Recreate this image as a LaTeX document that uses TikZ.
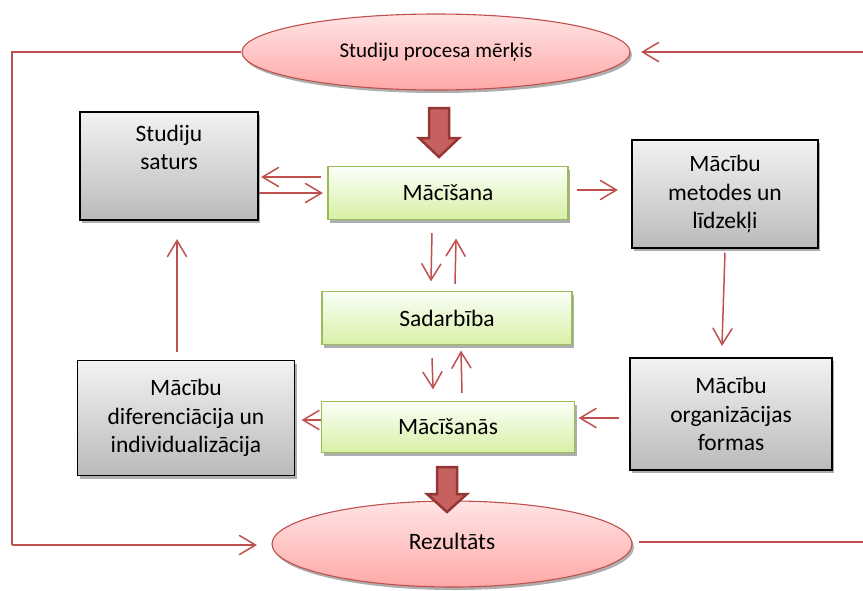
\documentclass[tikz,border=0pt]{standalone}
\usepackage{fontspec}
\setmainfont{Carlito}
\usetikzlibrary{arrows.meta,shadows,calc,shapes.geometric,decorations.markings}
\definecolor{ared}{HTML}{C0504D}
\definecolor{adark}{HTML}{943634}
\definecolor{gborder}{HTML}{9BBB59}
\begin{document}
\begin{tikzpicture}[x=1pt,y=-1pt,
  shadowed/.style={drop shadow={shadow xshift=2pt,shadow yshift=-3pt,fill=black!45,opacity=0.7}},
  graybox/.style={shadowed,draw=black,line width=1.1pt,top color=black!5,bottom color=black!27,
    align=center,inner sep=0pt,font=\fontsize{23.5}{28.5}\selectfont},
  greenbox/.style={shadowed,draw=gborder,line width=1.1pt,top color=green!2!white,bottom color={rgb,255:red,216;green,240;blue,165},
    align=center,inner sep=0pt,font=\fontsize{23.5}{26}\selectfont},
  oval/.style={ellipse,shadowed,draw=ared,line width=1.1pt,top color={rgb,255:red,255;green,228;blue,228},bottom color={rgb,255:red,255;green,168;blue,168},
    inner sep=0pt},
  conn/.style={draw=ared,line width=1.5pt,postaction={decorate},
    decoration={markings,mark=at position 1 with {\draw[draw=ared,line width=1.5pt,line cap=round,line join=miter] (-16pt,9.5pt) -- (0pt,0pt) -- (-16pt,-9.5pt);}}},
  plainconn/.style={draw=ared,line width=1.5pt},
  blockarrow/.style={draw=adark,fill=ared!90!white,line width=2.5pt,line join=miter}
]
\useasboundingbox (0,0) rectangle (863,590);

% ellipses
\node[oval,minimum width=388,minimum height=76,font=\fontsize{21}{24}\selectfont] (goal) at (436,52) {Studiju procesa mērķis};
\node[oval,minimum width=360,minimum height=86,font=\fontsize{23.5}{26}\selectfont] (res) at (452,544) {\raisebox{5pt}{Rezultāts}};

% gray boxes
\node[graybox,minimum width=178,minimum height=108] (saturs) at (169,166) {Studiju\\saturs\\\strut};
\node[graybox,minimum width=186,minimum height=108] (metodes) at (725,194) {Mācību\\metodes un\\līdzekļi};
\node[graybox,minimum width=217,minimum height=115] (difer) at (186,418) {Mācību\\diferenciācija un\\individualizācija};
\node[graybox,minimum width=202,minimum height=112] (formas) at (731,414) {Mācību\\organizācijas\\formas};

% green boxes
\node[greenbox,minimum width=240,minimum height=53] (maci) at (448,193) {Mācīšana};
\node[greenbox,minimum width=250,minimum height=53] (sadar) at (447,318) {Sadarbība};
\node[greenbox,minimum width=253,minimum height=51] (macis) at (448,427) {Mācīšanās};

% block arrows
\draw[blockarrow] (429,108) -- (449,108) -- (449,138) -- (459,138) -- (439,157) -- (419,138) -- (429,138) -- cycle;
\draw[blockarrow] (437,467) -- (457,467) -- (457,494) -- (467,494) -- (447,512) -- (427,494) -- (437,494) -- cycle;

% outer loop
\coordinate (tl) at (12,52);
\coordinate (bl) at (12,545);
\coordinate (tr) at (863,52);
\coordinate (br) at (863,542);
\draw[plainconn] (goal.west) -- (tl) -- (bl);
\draw[conn] (bl) -- ([xshift=-16pt,yshift=-1pt]res.west);
\draw[conn] (tr) -- ([xshift=12pt]goal.east);
\draw[plainconn] ([xshift=6pt,yshift=2pt]res.east) -- (br);

% Macisana <-> saturs
\draw[conn] ([xshift=-6pt,yshift=16pt]maci.west) -- ([xshift=4pt,yshift=-11pt]saturs.east);
\draw[conn] ([xshift=0pt,yshift=-27pt]saturs.east) -- ([xshift=-6pt,yshift=0pt]maci.west);
% Macisana -> metodes
\draw[conn] ([xshift=8pt,yshift=3pt]maci.east) -- ([xshift=-15pt,yshift=4pt]metodes.west);
% Macisana <-> Sadarbiba
\draw[conn] ([xshift=-16pt,yshift=-13pt]maci.south) -- ([xshift=-16pt,yshift=11pt]sadar.north);
\draw[conn] ([xshift=8pt,yshift=7pt]sadar.north) -- ([xshift=8pt,yshift=-20pt]maci.south);
% Sadarbiba <-> Macisanas
\draw[conn] ([xshift=-15pt,yshift=-13pt]sadar.south) -- ([xshift=-15pt,yshift=13pt]macis.north);
\draw[conn] ([xshift=14pt,yshift=8pt]macis.north) -- ([xshift=14pt,yshift=-7pt]sadar.south);
% metodes -> formas
\draw[conn] ([yshift=-4pt]metodes.south) -- ([xshift=-9pt,yshift=13pt]formas.north);
% formas -> Macisanas
\draw[conn] ([xshift=-10pt,yshift=-4pt]formas.west) -- ([xshift=5pt,yshift=9pt]macis.east);
% Macisanas -> difer
\draw[conn] ([xshift=0pt,yshift=7pt]macis.west) -- ([xshift=8pt,yshift=-2pt]difer.east);
% difer -> saturs
\draw[conn] ([xshift=-9pt,yshift=8pt]difer.north) -- ([xshift=8pt,yshift=-20pt]saturs.south);
\end{tikzpicture}
\end{document}
